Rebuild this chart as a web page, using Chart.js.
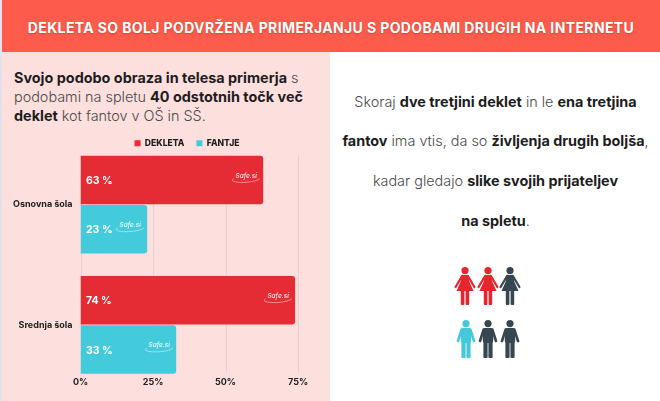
<!DOCTYPE html>
<html>
<head>
<meta charset="utf-8">
<script src="https://cdn.jsdelivr.net/npm/chart.js@4"></script>
<style>
html, body { margin: 0; padding: 0; }
body { width: 660px; height: 401px; position: relative; overflow: hidden; background: #fff; font-family: Inter, sans-serif; }
.strip { position: absolute; left: 0; top: 0; width: 2px; height: 401px; background: #e4e0ee; }
.header { position: absolute; left: 2px; top: 0; width: 658px; height: 52px; background: #fd5c4c; color: #fff; font-weight: 700; font-size: 14px; letter-spacing: .38px; line-height: 56px; text-align: center; text-shadow: 0 1px 2px rgba(120,30,20,.35); white-space: nowrap; }
.panel { position: absolute; left: 2px; top: 52px; width: 328px; height: 349px; background: #fddfde; }
.intro { position: absolute; left: 14px; top: 68px; font-size: 14.4px; line-height: 19px; color: #4a4a4a; white-space: nowrap; font-weight: 300; }
.side { position: absolute; left: 330px; top: 81.5px; width: 331px; text-align: center; font-size: 14.4px; line-height: 39.7px; color: #4a4a4a; white-space: nowrap; font-weight: 300; }
b { color: #1d1d1d; font-weight: 700; }
canvas { position: absolute; left: 0; top: 0; }
.people { position: absolute; left: 453px; top: 267px; }
</style>
</head>
<body>
<div class="strip"></div>
<div class="header">DEKLETA SO BOLJ PODVRŽENA PRIMERJANJU S PODOBAMI DRUGIH NA INTERNETU</div>
<div class="panel"></div>
<div class="intro"><b>Svojo podobo obraza in telesa primerja</b> s<br>podobami na spletu <b>40 odstotnih točk več</b><br><b>deklet</b> kot fantov v OŠ in SŠ.</div>
<div class="side">Skoraj <b>dve tretjini deklet</b> in le <b>ena tretjina</b><br><b>fantov</b> ima vtis, da so <b>življenja drugih boljša</b>,<br>kadar gledajo <b>slike svojih prijateljev</b><br><b>na spletu</b>.</div>
<svg class="people" width="70" height="92" viewBox="0 0 70 92">
  <defs>
    <g id="girl">
      <circle cx="11" cy="3.6" r="3.6"/>
      <path d="M8 8H14L15.5 15 19.5 24H2.5L6.5 15Z"/>
      <path d="M8.2 8.8 1.6 20M13.8 8.8 20.4 20" stroke="currentColor" stroke-width="2.2" stroke-linecap="round" fill="none"/>
      <rect x="6.8" y="23" width="3.6" height="15" rx="1"/>
      <rect x="11.6" y="23" width="3.6" height="15" rx="1"/>
    </g>
    <g id="boy">
      <circle cx="11" cy="3.6" r="3.6"/>
      <rect x="5.8" y="8" width="10.4" height="15" rx="2"/>
      <path d="M6.6 9.6 3 21M15.4 9.6 19 21" stroke="currentColor" stroke-width="2.6" stroke-linecap="round" fill="none"/>
      <rect x="6.4" y="21" width="4.2" height="17" rx="1"/>
      <rect x="11.4" y="21" width="4.2" height="17" rx="1"/>
    </g>
  </defs>
  <use href="#girl" x="1" y="0" fill="#e5262f" color="#e5262f"/>
  <use href="#girl" x="24" y="0" fill="#e5262f" color="#e5262f"/>
  <use href="#girl" x="46" y="0" fill="#37474f" color="#37474f"/>
  <use href="#boy" x="2" y="53" fill="#45c9da" color="#45c9da"/>
  <use href="#boy" x="24" y="53" fill="#37474f" color="#37474f"/>
  <use href="#boy" x="46" y="53" fill="#37474f" color="#37474f"/>
</svg>
<canvas id="chart" width="660" height="401"></canvas>
<script>
const categories = ['Osnovna šola', 'Srednja šola'];
const dekleta = [63, 74];
const fantje = [23, 33];
const xTicks = [0, 25, 50, 75];

// legend sits closer to the bars and further right than Chart.js wants,
// x labels sit above the end of the category band
const moveBoxes = {
    id: 'moveBoxes',
    afterLayout(chart) {
        chart.legend.top += 13;
        chart.legend.bottom += 13;
        chart.legend.left += 38;
        chart.legend.right += 38;
        chart.scales.x.top -= 10;
    }
};

// grid lines only span the bars, not the whole band
const shortGrid = {
    id: 'shortGrid',
    beforeDatasetsDraw(chart) {
        const { ctx, scales } = chart;
        ctx.save();
        ctx.strokeStyle = '#e9cfd0';
        ctx.lineWidth = 1;
        xTicks.forEach(t => {
            const x = Math.round(scales.x.getPixelForValue(t)) + 0.5;
            ctx.beginPath();
            ctx.moveTo(x, 155);
            ctx.lineTo(x, 373);
            ctx.stroke();
        });
        ctx.restore();
    }
};

const barLabels = {
    id: 'barLabels',
    afterDatasetsDraw(chart) {
        const { ctx } = chart;
        ctx.save();
        chart.data.datasets.forEach((ds, i) => {
            chart.getDatasetMeta(i).data.forEach((bar, j) => {
                ctx.fillStyle = '#fff';
                ctx.textBaseline = 'middle';
                ctx.textAlign = 'left';
                ctx.font = '700 10.5px Inter';
                ctx.fillText(ds.data[j] + ' %', bar.base + 5.5, bar.y + 1);
                // Safe.si mark at the bar end
                const cx = bar.x - 17;
                const cy = bar.y - 1;
                ctx.globalAlpha = 0.9;
                ctx.font = 'italic 500 6.5px Inter';
                ctx.textAlign = 'center';
                ctx.fillText('Safe.si', cx, cy - 3);
                ctx.strokeStyle = '#fff';
                ctx.lineWidth = 0.5;
                ctx.beginPath();
                ctx.ellipse(cx, cy, 14, 3.2, -0.08, 0.15, Math.PI + 0.5);
                ctx.stroke();
                ctx.globalAlpha = 1;
            });
        });
        ctx.restore();
    }
};

new Chart(document.getElementById('chart'), {
    type: 'bar',
    data: {
        labels: categories,
        datasets: [
            { label: 'DEKLETA', data: dekleta, backgroundColor: '#e52b33', borderRadius: { topRight: 3, bottomRight: 3 }, borderSkipped: 'left', categoryPercentage: 0.82, barPercentage: 0.985 },
            { label: 'FANTJE', data: fantje, backgroundColor: '#43cbdb', borderRadius: { topRight: 3, bottomRight: 3 }, borderSkipped: 'left', categoryPercentage: 0.82, barPercentage: 0.985 }
        ]
    },
    options: {
        indexAxis: 'y',
        responsive: false,
        animation: false,
        devicePixelRatio: 1,
        layout: { padding: { top: 114, right: 362, left: 0, bottom: 0 } },
        plugins: {
            tooltip: { enabled: false },
            legend: {
                position: 'top',
                labels: {
                    boxWidth: 6,
                    boxHeight: 6,
                    padding: 12,
                    color: '#1d1d1d',
                    font: { family: 'Inter', size: 8.6, weight: '800' }
                }
            }
        },
        scales: {
            x: {
                min: 0,
                max: 75,
                afterBuildTicks(scale) { scale.ticks = xTicks.map(v => ({ value: v })); },
                afterFit(scale) { scale.height = 16; },
                grid: { display: false },
                border: { display: false },
                ticks: {
                    padding: -6,
                    color: '#222',
                    maxRotation: 0,
                    font: { family: 'Inter', size: 9, weight: '700' },
                    callback: v => v + '%'
                }
            },
            y: {
                afterFit(scale) { scale.width = 80.5; },
                grid: { display: false },
                border: { display: false },
                ticks: {
                    padding: 0,
                    color: '#222',
                    font: { family: 'Inter', size: 9, weight: '700' }
                }
            }
        }
    },
    plugins: [moveBoxes, shortGrid, barLabels]
});
</script>
</body>
</html>
